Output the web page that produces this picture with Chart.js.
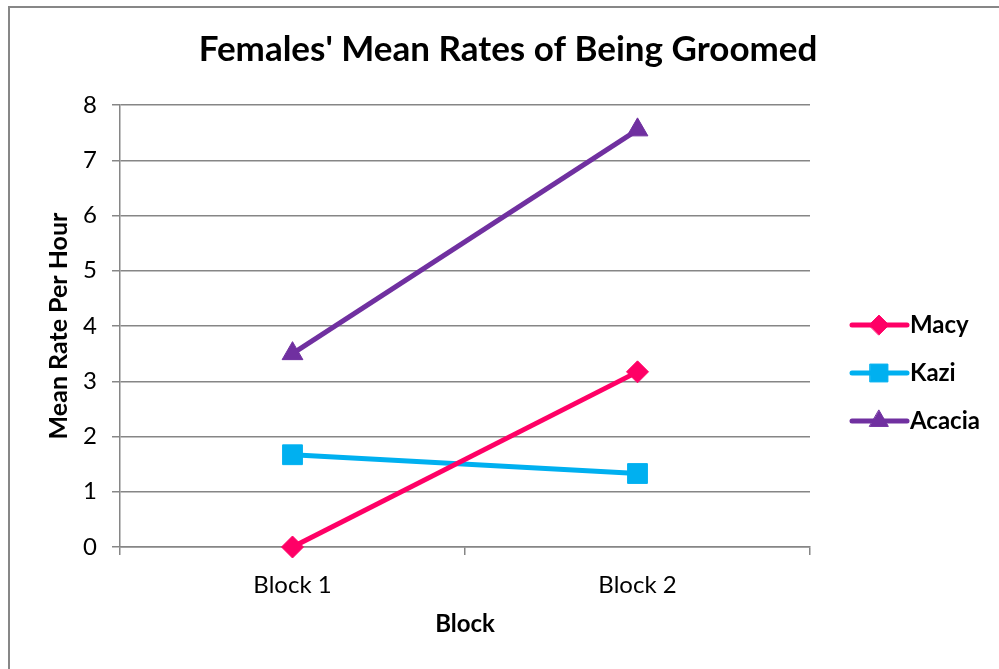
<!DOCTYPE html>
<html>
<head>
<meta charset="utf-8">
<title>Females' Mean Rates of Being Groomed</title>
<script src="https://cdn.jsdelivr.net/npm/chart.js@4.4.1/dist/chart.umd.min.js"></script>
<style>
  html, body { margin: 0; padding: 0; background: #fff; overflow: hidden; }
  #frame { position: absolute; left: 8px; top: 6px; width: 1200px; height: 900px;
           border-left: 2px solid #878787; border-top: 2px solid #878787; }
  #wrap { position: absolute; left: 0; top: 0; width: 999px; height: 669px; }
</style>
</head>
<body>
<div id="frame"></div>
<div id="wrap"><canvas id="chart" width="999" height="669"></canvas></div>
<script>
const blocks = ["Block 1", "Block 2"];
const macy = [0, 3.17];
const kazi = [1.67, 1.33];
const acacia = [3.5, 7.55];
const yTicks = [0, 1, 2, 3, 4, 5, 6, 7, 8];

const gridGray = "#868686";
const font = "Lato";

// legend on the right: short line with the marker in the middle, like Excel draws it
const sideLegend = {
  id: "sideLegend",
  afterDraw(chart) {
    const ctx = chart.ctx;
    const x0 = chart.chartArea.right + 42;
    chart.data.datasets.forEach((ds, i) => {
      const y = 325 + i * 48;
      ctx.save();
      ctx.strokeStyle = ds.borderColor;
      ctx.lineWidth = 5;
      ctx.lineCap = "round";
      ctx.beginPath();
      ctx.moveTo(x0, y);
      ctx.lineTo(x0 + 55, y);
      ctx.stroke();
      ctx.fillStyle = ds.borderColor;
      ctx.lineWidth = 1;
      Chart.helpers.drawPoint(ctx, {
        pointStyle: ds.pointStyle,
        radius: ds.pointRadius * 0.9,
        rotation: 0,
        borderWidth: 1
      }, x0 + 27, y);
      ctx.fillStyle = "#000";
      ctx.font = "bold 24px " + font;
      ctx.textBaseline = "middle";
      ctx.textAlign = "left";
      ctx.fillText(ds.label, x0 + 58, y);
      ctx.restore();
    });
  }
};

function series(label, data, color, style, r) {
  return {
    label, data,
    borderColor: color,
    backgroundColor: color,
    pointBackgroundColor: color,
    pointBorderColor: color,
    pointBorderWidth: 1,
    borderWidth: 5,
    pointStyle: style,
    pointRadius: r,
    pointHoverRadius: r,
    tension: 0,
    clip: false
  };
}

new Chart(document.getElementById("chart"), {
  type: "line",
  data: {
    labels: blocks,
    datasets: [
      series("Macy", macy, "#FF0066", "rectRot", 11),
      series("Kazi", kazi, "#00B0F0", "rect", 14),
      series("Acacia", acacia, "#7030A0", "triangle", 12)
    ]
  },
  options: {
    responsive: false,
    animation: false,
    devicePixelRatio: 1,
    layout: { padding: { left: 17, right: 0, top: 0, bottom: 0 } },
    plugins: {
      legend: { display: false },
      tooltip: { enabled: false },
      title: {
        display: true,
        text: "Females' Mean Rates of Being Groomed",
        color: "#000",
        font: { family: font, size: 35, weight: "bold" },
        padding: { top: 29, bottom: 34 }
      }
    },
    scales: {
      x: {
        offset: true,
        grid: { offset: true, drawOnChartArea: false, color: gridGray, lineWidth: 1.5, tickLength: 8 },
        border: { color: gridGray, width: 1.5 },
        ticks: { color: "#000", font: { family: font, size: 24 }, padding: 16 },
        title: {
          display: true, text: "Block", color: "#000",
          font: { family: font, size: 24, weight: "bold" },
          padding: { top: 0, bottom: 30 }
        },
        afterFit: s => { s.height = 122; }
      },
      y: {
        min: 0, max: 8,
        afterBuildTicks: s => { s.ticks = yTicks.map(v => ({ value: v })); },
        grid: { color: gridGray, lineWidth: 1.5, tickLength: 8 },
        border: { color: gridGray, width: 1.5 },
        ticks: { color: "#000", font: { family: font, size: 24 }, padding: 15 },
        title: {
          display: true, text: "Mean Rate Per Hour", color: "#000",
          font: { family: font, size: 25, weight: "bold" },
          padding: { top: 27, bottom: 0 }
        },
        afterFit: s => { s.width = 103; }
      },
      // empty axis that only reserves the room for the legend
      side: {
        type: "linear",
        position: "right",
        display: true,
        grid: { display: false },
        border: { display: false },
        ticks: { display: false },
        afterFit: s => { s.width = 189; }
      }
    }
  },
  plugins: [sideLegend]
});
</script>
</body>
</html>
